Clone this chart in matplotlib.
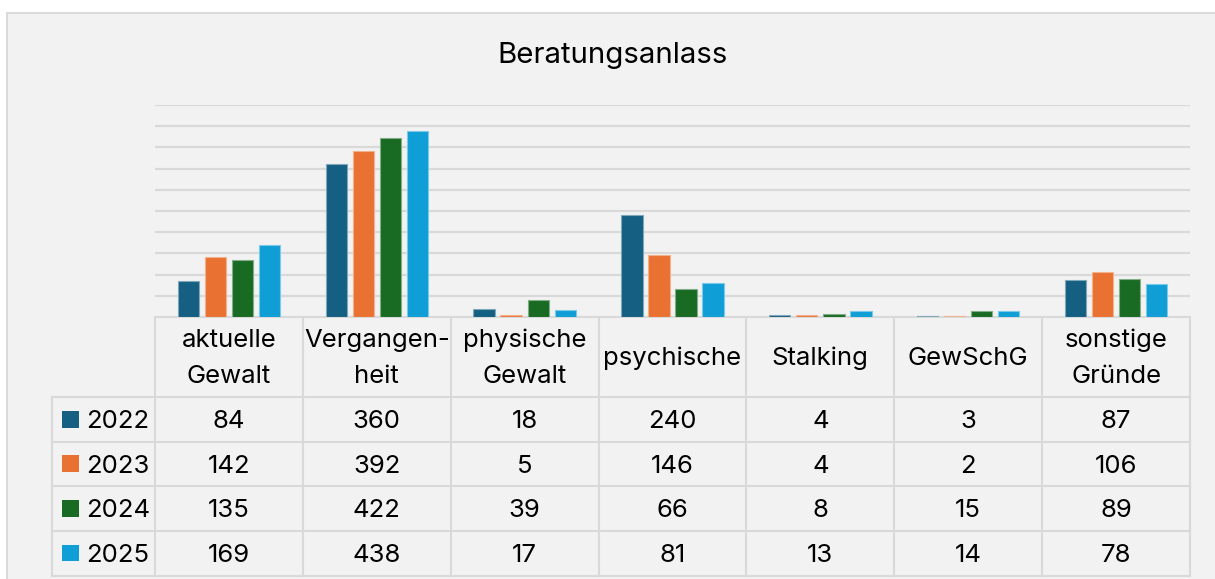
import matplotlib
matplotlib.use("Agg")
import matplotlib.pyplot as plt
from matplotlib.patches import Rectangle
import numpy as np

# ---- data ----
categories = ["aktuelle\nGewalt", "Vergangen-\nheit", "physische\nGewalt",
              "psychische", "Stalking", "GewSchG", "sonstige\nGründe"]
years = ["2022", "2023", "2024", "2025"]
v2022 = [84, 360, 18, 240, 4, 3, 87]
v2023 = [142, 392, 5, 146, 4, 2, 106]
v2024 = [135, 422, 39, 66, 8, 15, 89]
v2025 = [169, 438, 17, 81, 13, 14, 78]
series = [v2022, v2023, v2024, v2025]
colors = ["#156082", "#E97132", "#196B24", "#0F9ED5"]
title = "Beratungsanlass"

FONT = "Inter"
plt.rcParams["font.family"] = [FONT, "DejaVu Sans"]

W, H = 1215, 579
fig = plt.figure(figsize=(W / 100, H / 100), dpi=100, facecolor="white")

# overlay axes in pixel coordinates (for background, title, table)
ov = fig.add_axes([0, 0, 1, 1])
ov.set_xlim(0, W)
ov.set_ylim(H, 0)
ov.axis("off")
ov.add_patch(Rectangle((7, 13), W, H, facecolor="#f2f2f2",
                       edgecolor="#d9d9d9", lw=1.4, zorder=0))

# plot area geometry (pixels)
px_left, px_right = 155, 1190
py_top, py_base = 105, 317

ax = fig.add_axes([px_left / W, (H - py_base) / H,
                   (px_right - px_left) / W, (py_base - py_top) / H])
ax.set_facecolor("none")
n = len(categories)
ax.set_xlim(-0.5, n - 0.5)
ax.set_ylim(0, 500)
ax.set_yticks(np.arange(50, 501, 50))
ax.yaxis.grid(True, color="#d9d9d9", lw=1.6)
ax.set_axisbelow(True)
for s in ax.spines.values():
    s.set_visible(False)
ax.tick_params(left=False, bottom=False, labelleft=False, labelbottom=False)

x = np.arange(n)
step = 0.183
bw = 0.144


def lighten(c, f=0.45):
    import matplotlib.colors as mc
    r, g, b = mc.to_rgb(c)
    return (r + (1 - r) * f, g + (1 - g) * f, b + (1 - b) * f)


for i, (vals, col) in enumerate(zip(series, colors)):
    ax.bar(x + (i - 1.5) * step, vals, width=bw, color=col,
           edgecolor=lighten(col), lw=0.8, zorder=3)

# title
ov.text(613, 63, title, ha="center", va="baseline", fontsize=21.2,
        color="#000000")

# ---- data table ----
grid_c = "#d9d9d9"
glw = 1.5
col_w = (px_right - px_left) / n
col_edges = [px_left + k * col_w for k in range(n + 1)]
row_top = 317
row_edges = [397, 441.5, 486, 530.5, 575.5]
row_left = 52
fs = 18.5

# horizontal lines
ov.plot([px_left, px_right], [row_top, row_top], color=grid_c, lw=glw)
for y in row_edges:
    ov.plot([row_left, px_right], [y, y], color=grid_c, lw=glw)
# vertical lines
for xe in col_edges:
    ov.plot([xe, xe], [row_top, row_edges[-1]], color=grid_c, lw=glw)
ov.plot([row_left, row_left], [row_edges[0], row_edges[-1]], color=grid_c, lw=glw)

# header labels
for k, cat in enumerate(categories):
    cx = px_left + (k + 0.5) * col_w
    lines = cat.split("\n")
    if len(lines) == 1:
        ov.text(cx, 365, lines[0], ha="center", va="baseline", fontsize=fs)
    else:
        for j, ln in enumerate(lines):
            ov.text(cx, 347 + 36 * j, ln, ha="center", va="baseline", fontsize=fs)

# rows
for r, (yr, vals, col) in enumerate(zip(years, series, colors)):
    y0, y1 = row_edges[r], row_edges[r + 1]
    yc = (y0 + y1) / 2
    base = yc + 8.8
    ov.add_patch(Rectangle((62, yc - 8.3), 17, 16.6, facecolor=col,
                           edgecolor="none"))
    ov.text(86, base, yr, ha="left", va="baseline", fontsize=fs)
    for k, v in enumerate(vals):
        cx = px_left + (k + 0.5) * col_w
        ov.text(cx, base, str(v), ha="center", va="baseline", fontsize=fs)

fig.savefig("out.png", dpi=100, facecolor=fig.get_facecolor())
